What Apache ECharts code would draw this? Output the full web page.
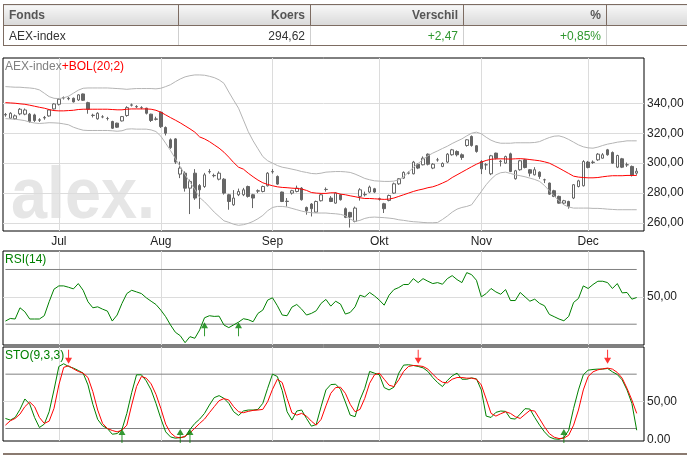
<!DOCTYPE html>
<html>
<head>
<meta charset="utf-8">
<script src="https://cdn.jsdelivr.net/npm/echarts@6/dist/echarts.min.js"></script>
<style>
html, body { margin: 0; padding: 0; background: #fff; }
#wrap { position: relative; width: 687px; height: 455px; overflow: hidden; }
#chart { position: absolute; left: 0; top: 0; width: 687px; height: 455px; }
#quote { position: absolute; left: 3px; top: 4px; width: 684px; border-collapse: collapse; table-layout: fixed;
  font: 12px 'Liberation Sans', Arial, sans-serif; z-index: 2; }
#quote th { height: 20px; padding: 0 5px; background: linear-gradient(#f7f7f7, #d9d9d9); color: #555;
  font-weight: bold; text-align: right; border: 1px solid #7d6c62; border-right: none; }
#quote td { height: 19px; padding: 0 5px; color: #333; text-align: right;
  border-left: 1px solid #cfcfcf; border-bottom: 1px solid #7d6c62; }
#quote th:first-child, #quote td:first-child { text-align: left; }
#quote td:first-child { border-left: 1px solid #7d6c62; }
#quote .up { color: #2f972f; }
#foot { position: absolute; left: 3px; right: 0; top: 453px; border-top: 2px solid #8a7a70; }
</style>
</head>
<body>
<div id="wrap">
  <div id="chart"></div>
  <table id="quote">
    <colgroup><col style="width:175px"><col style="width:132px"><col style="width:153px"><col style="width:143px"><col style="width:81px"></colgroup>
    <tr><th>Fonds</th><th>Koers</th><th>Verschil</th><th>%</th><th></th></tr>
    <tr><td>AEX-index</td><td>294,62</td><td class="up">+2,47</td><td class="up">+0,85%</td><td></td></tr>
  </table>
  <div id="foot"></div>
</div>
<script>
// handelsdagen per maand (juni t/m december 2011)
var tradingDays = {
    '2011-06': [16,17,20,21,22,23,24,27,28,29,30],
    '2011-07': [1,4,5,6,7,8,11,12,13,14,15,18,19,20,21,22,25,26,27,28,29],
    '2011-08': [1,2,3,4,5,8,9,10,11,12,15,16,17,18,19,22,23,24,25,26,29,30,31],
    '2011-09': [1,2,5,6,7,8,9,12,13,14,15,16,19,20,21,22,23,26,27,28,29,30],
    '2011-10': [3,4,5,6,7,10,11,12,13,14,17,18,19,20,21,24,25,26,27,28,31],
    '2011-11': [1,2,3,4,7,8,9,10,11,14,15,16,17,18,21,22,23,24,25,28,29,30],
    '2011-12': [1,2,5,6,7,8,9,12,13,14,15,16]
};
var monthNames = {'06':'Jun','07':'Jul','08':'Aug','09':'Sep','10':'Okt','11':'Nov','12':'Dec'};

var opens = [332.2,330,329.6,332.9,332.7,332.7,332.2,328.9,330.2,331.5,
    336.2,339.3,343.5,343.3,343.3,342.2,346.2,340.4,331.8,329.6,
    330.9,329.8,327.8,326.7,328.2,331.8,338.7,337.8,337.1,336.7,
    332.7,329.5,334.0,323.8,315.6,316.2,292.7,293.3,283.3,293.3,
    285.0,284.4,294.2,291.8,289.3,289.3,278.9,272.2,278.9,278.9,
    284.4,278.9,281.3,281.1,284.9,294.2,291.1,280.7,274.6,280.0,
    281.1,283.3,270.4,272.7,267.3,274.9,282.4,276.7,273.3,278.9,
    269.6,267.1,261.1,277.8,278.9,280.7,282.9,276.0,272.9,275.1,
    280.0,286.2,290.0,293.3,292.9,299.3,298.9,306.0,296.7,302.2,
    297.8,300.7,305.6,307.8,305.6,311.8,317.8,311.6,301.1,298.9,
    292.9,306.7,301.1,300.0,306.2,289.6,295.6,302.2,295.6,292.2,
    294.0,288.9,286.7,281.6,277.8,273.3,274.4,276.7,284.4,284.9,
    300.7,300.4,302.2,303.3,308.9,307.1,297.3,302.9,298.9,297.8,
    293.3];
var closes = [332.5,333.3,331.6,336.0,335.5,327.8,328.5,328.7,330.5,335.5,
    339.5,342.7,343.8,343.0,340.9,345.6,342.0,336.0,332.0,333.3,
    330.9,329.8,323.3,324.0,331.1,337.1,338.9,337.6,337.1,333.3,
    328.5,329.3,324.4,320.0,310.4,300.7,296.7,283.3,287.8,276.7,
    282.2,292.2,294.4,291.6,293.3,280.0,274.4,276.7,281.1,282.2,
    277.8,276.7,281.6,284.4,293.3,294.4,286.0,274.4,274.4,281.6,
    283.3,275.6,268.2,269.6,274.4,278.9,282.5,274.4,280.0,275.6,
    263.8,264.0,270.0,282.2,279.1,284.0,280.7,276.2,269.6,278.4,
    286.2,289.6,293.8,293.5,300.7,296.7,303.3,299.3,299.3,302.2,
    299.8,306.0,308.9,305.6,303.8,315.6,311.8,307.8,296.2,298.9,
    304.9,303.3,301.3,304.4,294.4,294.9,301.6,297.1,293.3,295.6,
    291.1,288.9,279.3,277.8,273.3,274.9,271.1,285.6,288.2,301.1,
    297.1,300.7,306.0,305.6,305.6,300.0,305.1,297.3,298.9,292.15,
    294.62];
var lows = [331,329.5,329,332,332,327,327.5,327.5,329,331,
    335.8,338.5,342.5,342,340.5,341.5,341.5,333,330.5,329,
    330,328.5,322.8,323.5,327.8,331,337.8,336.7,336,332.5,
    327.5,328.5,323.5,318.5,309.5,299.5,290,281,266,275.5,
    269.5,283.5,293,290.5,288.5,279,268.9,271.5,278,278,
    277,270,280,280.5,284.4,293,285.5,274,271,279,
    280.5,275,265.6,264.4,267,274.4,281,274,272.9,275,
    263.3,257,260.5,275,277.8,280,280,275,266.7,274.5,
    279.5,285.5,289.5,292.5,292.5,296,298.5,298.5,296,301,
    297.3,300,305,304.5,302.2,311,311,307,292.7,295.5,
    292,302.5,297.8,299.5,294,289,295,296.5,291.1,291.8,
    289.5,286.7,278.9,277.3,272.9,272.5,269.6,276,283.8,284.4,
    296.5,299.5,301.5,303,305,299.5,296.7,296.7,297.5,291.1,
    292.2];
var highs = [333.5,334,332.5,336.8,336.5,333.5,333,330,331.5,336,
    340,343.5,344.5,344.2,343.8,346,346.5,341,333,334,
    332,330.9,328.3,327,331.5,338,339.8,338.7,338,337,
    333,331,334.5,324.5,316.5,316.7,301,294.5,289,296,
    286,293.5,296,293,294.5,290,279.5,282,283,283.5,
    285,279.5,282.5,285,294,296,291.8,281,276.7,282.2,
    285,284,271,273.3,275,279.5,283.8,278,280.5,279.5,
    270.4,267.5,271,283.3,281,285,283.5,277,273.5,279,
    287,290,294.5,294.5,301.5,300,304.5,306.5,300,303.5,
    300.5,306.7,309.5,308.5,306.5,316,318.5,312,302,300,
    305.5,307,302.2,305,307,295.5,302.2,302.8,296,297.3,
    294.5,289.6,287,282.2,278.3,275.5,274.9,286,288.9,302,
    301.5,301.8,306.7,306.7,309.5,307.8,305.6,303.5,300.4,298.4,
    296.7];

var bolUpper = [351.1,350.9,350.7,350.7,350.4,350.2,349.8,348.9,346.7,344.4,
    343.3,343.1,343.6,344.7,346.7,348.7,350.0,350.2,350.2,350.2,
    350.2,350.2,350.0,349.8,349.6,349.3,349.6,349.8,349.8,349.8,
    349.8,349.6,350.0,351.1,352.4,354.4,356.2,357.6,358.4,358.9,
    358.9,358.7,358.0,357.1,355.6,353.3,347.5,342.0,336.7,328.9,
    321.1,314.9,309.6,304.4,301.6,300.0,298.4,297.3,296.7,296.0,
    295.3,294.4,293.8,293.1,292.9,293.3,294.0,294.2,294.4,294.4,
    294.2,293.8,292.7,291.3,289.8,288.9,288.2,288.0,287.8,287.8,
    288.0,288.9,290.9,294.0,297.1,299.8,302.4,304.9,306.7,308.2,
    309.8,311.3,313.1,314.7,316.2,318.2,320.0,320.7,319.6,317.3,
    315.3,314.0,313.3,313.3,313.3,313.6,313.6,313.6,313.6,313.8,
    314.4,315.8,317.1,318.0,318.2,317.3,315.8,314.0,312.2,310.9,
    310.2,310.0,310.7,311.8,312.7,313.3,314.0,314.4,314.9,314.9,
    314.9];
var bolMid = [340.4,340.2,340.0,339.6,339.3,338.7,338.0,337.3,336.7,335.8,
    335.1,334.9,334.9,335.1,335.3,335.8,336.0,336.0,336.0,336.0,
    336.0,336.0,335.8,335.6,335.6,336.0,336.2,336.2,336.2,336.2,
    336.0,335.3,334.0,332.2,330.4,328.7,326.9,324.9,322.9,320.7,
    317.5,316.2,314.4,312.2,310.0,307.3,304.0,300.4,297.3,296.0,
    293.3,290.9,288.7,286.9,285.8,284.9,284.2,283.8,283.6,283.3,
    283.1,282.7,281.8,280.4,280.0,279.8,279.8,280.2,280.2,279.3,
    278.9,278.2,277.6,276.9,276.4,276.4,276.2,276.0,275.8,276.0,
    276.7,277.8,278.9,280.0,281.1,282.0,282.7,283.6,284.2,285.3,
    286.7,288.2,290.4,292.2,294.0,295.8,297.6,299.3,300.7,301.8,
    302.6,302.8,302.9,302.8,302.7,302.9,303.0,302.8,302.4,302.0,
    301.6,300.9,300.0,298.4,296.7,294.9,293.1,291.3,290.7,290.4,
    290.2,290.2,290.4,290.9,291.3,291.6,291.6,291.6,291.8,291.8,
    291.8];
var bolLower = [329.7,329.5,329.3,328.9,328.4,327.4,326.8,326.5,326.7,327.0,
    326.9,326.7,326.2,325.6,324.0,322.9,322.0,321.8,321.8,321.8,
    321.8,321.8,321.6,321.3,321.6,322.7,322.9,322.7,322.7,322.7,
    322.2,321.1,318.0,313.3,308.4,303.0,297.6,292.2,287.3,282.5,
    277.0,274.2,270.8,267.3,264.4,261.5,260.5,259.2,258.5,258.9,
    259.8,261.1,262.9,265.1,268.2,270.4,271.1,271.1,270.7,269.8,
    268.9,268.0,267.3,266.9,266.7,266.7,266.7,266.4,266.2,265.8,
    264.9,262.7,261.1,261.8,263.1,263.8,264.0,263.8,263.6,263.3,
    262.9,262.2,261.8,261.3,260.9,260.7,260.4,260.2,260.2,260.4,
    262.4,264.7,267.3,269.3,270.4,271.1,272.2,276.7,281.1,285.6,
    289.3,292.2,293.6,294.0,293.1,292.2,291.6,290.9,290.0,289.1,
    287.8,285.1,281.6,278.0,274.9,272.2,270.7,270.0,270.0,270.0,
    270.0,269.8,269.8,269.6,269.3,269.1,268.9,268.9,268.9,268.9,
    268.9];

var rsi14 = [32.3,34.2,33.8,42.0,39.1,33.8,33.8,33.8,36.2,46.4,
    55.6,58.0,58.0,57.0,55.8,59.7,54.8,46.4,42.0,42.7,
    41.0,39.6,32.3,36.7,45.2,52.4,54.8,53.6,52.4,49.3,
    46.8,44.4,40.3,35.5,29.4,24.1,21.6,16.5,20.9,19.7,
    25.8,34.7,36.2,35.7,35.9,29.4,27.5,29.5,31.5,34.0,
    33.3,31.8,37.9,40.3,47.6,49.3,43.5,36.7,36.2,42.5,
    44.4,41.0,36.7,37.9,39.8,45.2,48.1,43.2,46.8,44.7,
    37.4,38.6,42.7,51.2,50.0,53.2,50.7,47.6,43.9,51.2,
    55.3,56.8,59.0,59.0,63.3,60.4,63.3,61.4,59.7,60.4,
    59.2,63.3,65.5,62.6,60.4,67.7,66.2,62.1,50.0,52.4,
    56.1,53.6,51.9,55.3,47.3,47.3,53.2,50.0,46.8,48.3,
    45.2,43.5,37.2,35.5,33.8,32.5,35.7,45.9,48.8,58.0,
    56.1,59.0,61.4,61.4,60.4,56.1,59.7,52.9,53.2,48.3,
    49.5];
var stoK = [31.1,29.3,32.2,41.1,52.6,47.0,32.2,21.1,24.8,38.5,
    62.6,88.5,91.5,88.5,86.7,84.1,81.1,68.1,46.7,30.0,
    23.0,20.0,13.7,14.4,18.9,36.7,59.6,79.3,79.3,72.6,
    62.6,47.8,31.1,16.3,10.7,9.3,10.0,10.8,19.0,25.6,
    30.4,36.7,45.9,54.1,56.3,53.3,47.8,38.5,34.4,39.3,
    40.4,40.4,41.1,47.8,64.4,80.0,77.4,61.9,38.5,29.3,
    39.3,40.4,31.1,22.6,24.4,44.0,62.6,68.5,68.9,63.3,
    49.3,34.8,33.0,51.5,64.4,83.0,81.1,79.3,65.2,62.6,
    65.6,81.1,90.0,90.4,89.6,88.5,87.0,83.0,76.3,70.7,
    66.3,73.0,78.1,81.1,74.4,74.4,75.9,74.8,62.6,33.7,
    32.2,37.8,39.3,38.9,31.1,30.4,35.9,41.9,41.5,32.2,
    23.7,16.3,10.7,8.5,8.1,10.0,18.1,42.2,62.6,79.3,
    84.4,85.2,85.6,85.6,86.3,82.6,79.6,73.7,62.6,47.8,
    18.1];
var stoD = [23.7,28.5,31.1,35.9,44.1,49.3,44.1,32.2,25.6,28.1,
    42.2,68.1,87.5,89.3,85.9,83.0,81.1,76.3,60.7,40.4,
    25.6,20.0,17.8,16.3,18.1,23.7,45.9,66.3,77.4,75.6,
    69.3,57.8,42.2,24.8,15.2,10.7,9.6,11.5,15.2,20.4,
    25.6,30.4,37.4,44.1,50.7,53.0,51.5,44.1,38.5,37.4,
    38.9,40.0,40.4,41.1,49.6,63.3,74.4,70.7,53.3,37.4,
    34.8,36.7,33.7,28.1,23.7,30.0,45.0,58.9,65.2,65.6,
    58.9,46.7,38.5,41.1,53.3,70.0,79.3,81.1,74.4,67.8,
    66.3,73.7,83.0,88.5,89.6,89.3,88.5,85.6,80.0,74.8,
    71.1,70.4,74.4,76.3,76.3,75.6,75.6,74.4,68.1,52.6,
    36.7,33.7,36.3,38.5,36.7,33.0,31.1,35.6,40.0,39.3,
    30.7,21.9,14.4,10.4,8.9,9.3,12.6,23.7,40.4,62.6,
    77.4,82.6,84.8,85.9,86.7,85.6,81.9,75.6,64.4,51.5,
    36.7];

// signalen: [dagindex, niveau]
var rsiBuy = [[41, 31.5], [48, 31.5]];
var stoBuy = [[24, 19.5], [36, 19.5], [38, 19.5], [115, 19.5]];
var stoSell = [[13, 91.5], [85, 91.5], [124, 91.5]];

var rsiLevels = [30, 70];
var stoLevels = [20, 80];
var priceTicks = [260, 280, 300, 320, 340];

var FONT = "'Liberation Sans', Arial, sans-serif";
var GREEN = '#008000';
var RED = '#ff0000';
var ARROW_UP = 'path://M3.5,0 L7,6 L4,6 L4,14 L3,14 L3,6 L0,6 Z';
var ARROW_DOWN = 'path://M3,0 L4,0 L4,8 L7,8 L3.5,14 L0,8 L3,8 Z';

var dates = [];
Object.keys(tradingDays).forEach(function (m) {
    tradingDays[m].forEach(function (d) {
        dates.push(m + '-' + (d < 10 ? '0' + d : d));
    });
});
var lastIdx = closes.length - 1;

function monthStart(idx, value) {
    return idx > 0 && value.slice(0, 7) !== dates[idx - 1].slice(0, 7);
}
function nl(v) {
    return v.toFixed(2).replace('.', ',');
}

var candleData = closes.map(function (c, i) {
    return [opens[i], c, lows[i], highs[i]];
});

function xAxisFor(grid, withLabels) {
    return {
        type: 'category',
        gridIndex: grid,
        data: dates,
        boundaryGap: true,
        axisLine: { show: false },
        axisTick: { show: false },
        axisLabel: {
            show: withLabels,
            interval: monthStart,
            formatter: function (v) { return monthNames[v.slice(5, 7)]; },
            color: '#222',
            fontFamily: FONT,
            fontSize: 12,
            margin: 5
        },
        splitLine: {
            show: true,
            interval: monthStart,
            alignWithLabel: true,
            lineStyle: { color: '#dcdcdc', width: 1 }
        }
    };
}

function yAxisFor(grid, min, max, ticks, labels, fmt) {
    return {
        type: 'value',
        gridIndex: grid,
        position: 'right',
        min: min,
        max: max,
        axisLine: { show: false },
        axisTick: { show: false, customValues: ticks },
        axisLabel: {
            customValues: labels,
            formatter: fmt,
            color: '#222',
            fontFamily: FONT,
            fontSize: 12,
            margin: 3
        },
        splitLine: { show: true, lineStyle: { color: '#dcdcdc', width: 1 } }
    };
}

function levelSeries(axis, lvl) {
    return {
        type: 'line',
        xAxisIndex: axis,
        yAxisIndex: axis,
        data: [[0, lvl], [lastIdx, lvl]],
        showSymbol: false,
        silent: true,
        lineStyle: { color: '#808080', width: 1 },
        z: 1
    };
}

function lineSeries(axis, data, color) {
    return {
        type: 'line',
        xAxisIndex: axis,
        yAxisIndex: axis,
        data: data,
        showSymbol: false,
        silent: true,
        lineStyle: { color: color, width: 1 },
        z: 3
    };
}

function arrowSeries(axis, data, up, color) {
    return {
        type: 'scatter',
        xAxisIndex: axis,
        yAxisIndex: axis,
        data: data,
        symbol: up ? ARROW_UP : ARROW_DOWN,
        symbolSize: [7, 14],
        symbolOffset: [0, up ? 7 : -7],
        itemStyle: { color: color },
        silent: true,
        z: 5
    };
}

var chart = echarts.init(document.getElementById('chart'));
var option = {
    animation: false,
    textStyle: { fontFamily: FONT },
    title: [
        {
            text: '{a|AEX-index}{b|+BOL(20;2)}',
            left: 5, top: 61, padding: 0,
            textStyle: {
                fontSize: 12, fontWeight: 'normal',
                rich: {
                    a: { color: '#808080', fontSize: 12, fontFamily: FONT },
                    b: { color: RED, fontSize: 12, fontFamily: FONT }
                }
            }
        },
        { text: 'RSI(14)', left: 5, top: 254, padding: 0,
          textStyle: { color: GREEN, fontSize: 12, fontWeight: 'normal', fontFamily: FONT } },
        { text: 'STO(9,3,3)', left: 5, top: 350, padding: 0,
          textStyle: { color: GREEN, fontSize: 12, fontWeight: 'normal', fontFamily: FONT } }
    ],
    graphic: [{
        type: 'text',
        x: 11,
        y: 198,
        scaleX: 0.9,
        z: 0,
        silent: true,
        style: {
            text: 'alex.',
            x: 0,
            y: 0,
            align: 'left',
            verticalAlign: 'middle',
            font: 'bold 72px ' + FONT,
            fill: '#e6e6e6'
        }
    }],
    grid: [
        { left: 3, top: 58, width: 641, height: 173, show: true, borderColor: '#000', borderWidth: 1 },
        { left: 3, top: 251, width: 641, height: 94, show: true, borderColor: '#000', borderWidth: 1 },
        { left: 3, top: 347, width: 641, height: 94, show: true, borderColor: '#000', borderWidth: 1 }
    ],
    xAxis: [xAxisFor(0, true), xAxisFor(1, false), xAxisFor(2, false)],
    yAxis: [
        yAxisFor(0, 254.7, 370.2, priceTicks, priceTicks, nl),
        yAxisFor(1, 14.8, 83.5, [50], [50], nl),
        yAxisFor(2, 6.2, 110, [50], [7.5, 50], function (v) { return v === 50 ? nl(v) : '0.00'; })
    ],
    series: [
        {
            type: 'candlestick',
            xAxisIndex: 0,
            yAxisIndex: 0,
            data: candleData,
            barWidth: 3,
            silent: true,
            itemStyle: {
                color: '#ffffff',
                color0: '#666666',
                borderColor: '#666666',
                borderColor0: '#666666',
                borderWidth: 1
            },
            z: 2
        },
        lineSeries(0, bolUpper, '#b4b4b4'),
        lineSeries(0, bolLower, '#b4b4b4'),
        lineSeries(0, bolMid, RED),
        levelSeries(1, rsiLevels[0]),
        levelSeries(1, rsiLevels[1]),
        lineSeries(1, rsi14, GREEN),
        arrowSeries(1, rsiBuy, true, GREEN),
        levelSeries(2, stoLevels[0]),
        levelSeries(2, stoLevels[1]),
        lineSeries(2, stoK, GREEN),
        lineSeries(2, stoD, RED),
        arrowSeries(2, stoBuy, true, GREEN),
        arrowSeries(2, stoSell, false, RED)
    ]
};
chart.setOption(option);
</script>
</body>
</html>
